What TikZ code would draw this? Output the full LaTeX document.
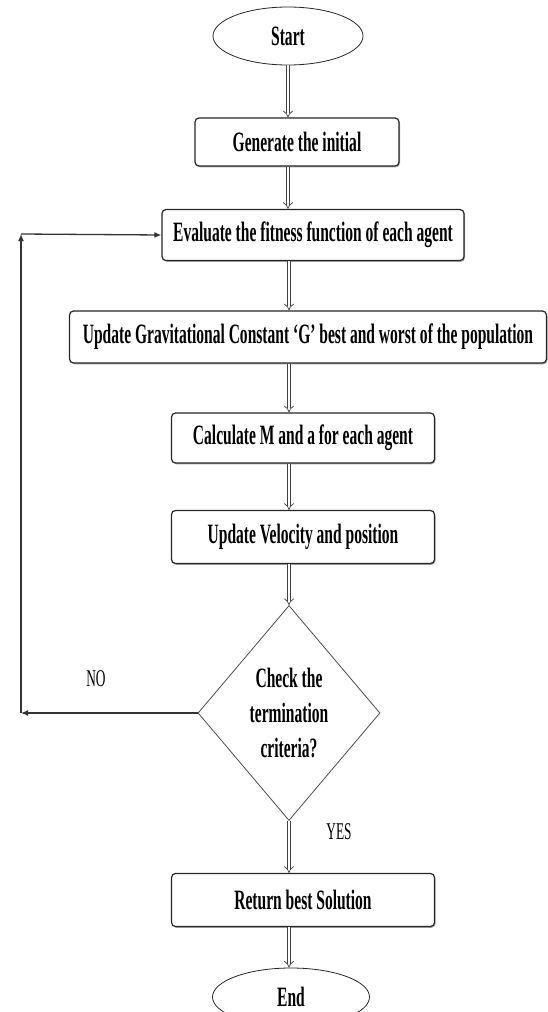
\documentclass[tikz,border=0pt]{standalone}
\usepackage{fontspec}
\setmainfont{Liberation Serif}[FakeStretch=0.555]
\usetikzlibrary{shapes.geometric}
\usetikzlibrary{arrows.meta}
\usetikzlibrary{shadows}

\tikzset{
  stepbox/.style={draw=black!85, line width=1.2pt, rounded corners=4pt, fill=white,
    inner sep=0pt, font=\fontsize{28}{34}\selectfont\bfseries,
    drop shadow={shadow xshift=1pt, shadow yshift=-1.3pt, fill=black!50, opacity=0.7}},
  terminal/.style={ellipse, draw=black!85, line width=0.8pt, inner sep=0pt,
    minimum width=150pt, minimum height=58pt, font=\fontsize{28}{34}\selectfont\bfseries},
  decision/.style={diamond, draw=black!70, line width=0.8pt, inner sep=0pt, aspect=0.85,
    minimum width=182pt, minimum height=215pt, align=center,
    font=\fontsize{28}{35}\selectfont\bfseries},
  flow/.style={double=white, double distance=2.8pt, line width=0.7pt, draw=black!75, -{Implies}},
  loopline/.style={line width=1.3pt, draw=black!80, -{Latex[length=7pt,width=6pt]}},
  answer/.style={font=\fontsize{24}{28}\selectfont}
}

\begin{document}
\begin{tikzpicture}[x=1pt, y=-1pt]
            \path[use as bounding box, fill=white] (0,0) rectangle (548,1012);

            % Terminals and steps
            \node[terminal] (start) at (288,36) {Start};
            \node[stepbox, minimum width=204pt, minimum height=48pt] (init) at (297,142) {Generate the initial};
            \node[stepbox, minimum width=302pt, minimum height=51pt] (fitness) at (313,235) {Evaluate the fitness function of each agent};
            \node[stepbox, minimum width=477pt, minimum height=52pt] (gconst) at (308,337) {Update Gravitational Constant ‘G’ best and worst of the population};
            \node[stepbox, minimum width=263pt, minimum height=50pt] (mass) at (303,438) {Calculate M and a for each agent};
            \node[stepbox, minimum width=263pt, minimum height=53pt] (velocity) at (303,537) {Update Velocity and position};
            \node[decision] (check) at (289,713) {Check the\\termination\\criteria?};
            \node[stepbox, minimum width=263pt, minimum height=53pt] (best) at (303,900) {Return best Solution};
            \node[terminal, minimum width=157pt] (finish) at (291,997) {End};

            % Main flow
            \draw[flow] (start.south) -- (init.north -| start);
            \draw[flow] (init.south -| start) -- (fitness.north -| start);
            \draw[flow] (fitness.south -| check) -- (gconst.north -| check);
            \draw[flow] (gconst.south -| check) -- (mass.north -| check);
            \draw[flow] (mass.south -| check) -- (velocity.north -| check);
            \draw[flow] (velocity.south -| check) -- (check.north);
            \draw[flow] (check.south) -- (best.north -| check);
            \draw[flow] (best.south -| check) -- (finish.north -| check);

            % Loop back
            \coordinate (noturn) at (21,713);
            \coordinate (upturn) at (21,234);
            \draw[loopline] (check.west) -- (noturn);
            \draw[loopline] (noturn) -- (upturn);
            \draw[loopline] (upturn) -- (fitness.west);

            % Answers
            \node[answer] (nolbl) at (96,679) {NO};
            \node[answer] (yeslbl) at (339,832) {YES};

        \end{tikzpicture}
\end{document}
